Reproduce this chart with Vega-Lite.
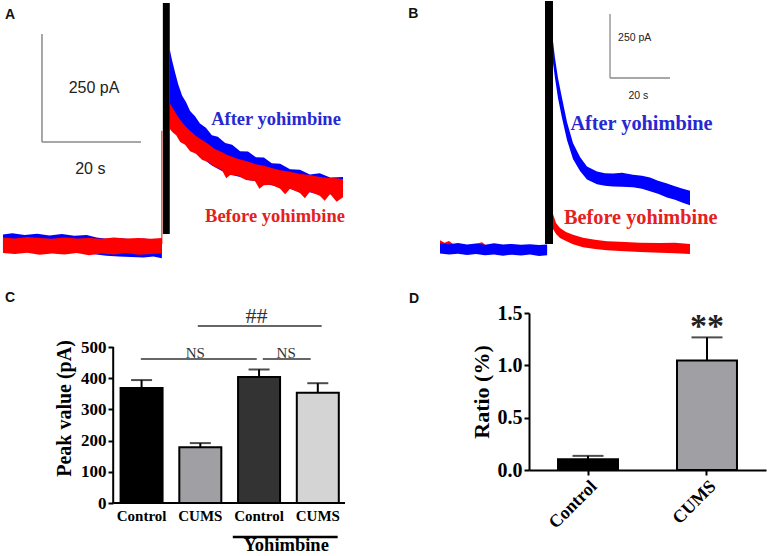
{
  "$schema": "https://vega.github.io/schema/vega-lite/v6.json",
  "padding": 0,
  "background": "white",
  "spacing": 10,
  "config": {
    "view": {"stroke": null},
    "axis": {"grid": false, "domainColor": "black", "tickColor": "black", "labelColor": "black", "titleColor": "black"}
  },
  "datasets": {
    "A_blue": [
      {"seg":"b","t":0.6,"i":22,"i2":-15},{"seg":"b","t":2.5,"i":25,"i2":-14},{"seg":"b","t":5,"i":21,"i2":-17},{"seg":"b","t":7.5,"i":24,"i2":-15},{"seg":"b","t":10,"i":20,"i2":-18},{"seg":"b","t":12.5,"i":23,"i2":-16},{"seg":"b","t":15,"i":19,"i2":-19},{"seg":"b","t":17.5,"i":21,"i2":-21},{"seg":"b","t":19.5,"i":15,"i2":-24},{"seg":"b","t":21.5,"i":12,"i2":-27},{"seg":"b","t":24,"i":14,"i2":-29},{"seg":"b","t":26.5,"i":11,"i2":-30},{"seg":"b","t":29,"i":13,"i2":-31},{"seg":"b","t":31,"i":10,"i2":-29},{"seg":"b","t":32.7,"i":12,"i2":-33},
      {"seg":"d","t":34.3,"i":451,"i2":280},{"seg":"d","t":34.7,"i":428,"i2":275},{"seg":"d","t":35.4,"i":396,"i2":270},{"seg":"d","t":36.0,"i":370,"i2":255},{"seg":"d","t":36.8,"i":343,"i2":245},{"seg":"d","t":37.6,"i":328,"i2":232},{"seg":"d","t":38.4,"i":308,"i2":220},{"seg":"d","t":39.4,"i":296,"i2":212},{"seg":"d","t":40.4,"i":279,"i2":200},{"seg":"d","t":41.6,"i":269,"i2":192},{"seg":"d","t":42.8,"i":252,"i2":182},{"seg":"d","t":44.0,"i":248,"i2":174},{"seg":"d","t":45.5,"i":234,"i2":165},{"seg":"d","t":46.9,"i":230,"i2":160},{"seg":"d","t":48.5,"i":215,"i2":155},{"seg":"d","t":50.1,"i":214,"i2":148},{"seg":"d","t":51.7,"i":201,"i2":145},{"seg":"d","t":53.3,"i":200,"i2":138},{"seg":"d","t":54.9,"i":187,"i2":136},{"seg":"d","t":56.6,"i":186,"i2":130},{"seg":"d","t":58.6,"i":173,"i2":128},{"seg":"d","t":60.6,"i":172,"i2":120},{"seg":"d","t":62.6,"i":161,"i2":120},{"seg":"d","t":64.6,"i":164,"i2":114},{"seg":"d","t":66.7,"i":154,"i2":115},{"seg":"d","t":69.3,"i":155,"i2":110}
    ],
    "A_red": [
      {"seg":"b","t":0.6,"i":15,"i2":-21},{"seg":"b","t":3,"i":13,"i2":-23},{"seg":"b","t":5.5,"i":16,"i2":-20},{"seg":"b","t":8,"i":14,"i2":-25},{"seg":"b","t":10.5,"i":12,"i2":-22},{"seg":"b","t":13,"i":15,"i2":-24},{"seg":"b","t":15.5,"i":13,"i2":-21},{"seg":"b","t":18,"i":14,"i2":-26},{"seg":"b","t":20.5,"i":12,"i2":-22},{"seg":"b","t":23,"i":15,"i2":-24},{"seg":"b","t":25.5,"i":13,"i2":-21},{"seg":"b","t":28,"i":14,"i2":-25},{"seg":"b","t":30.5,"i":12,"i2":-23},{"seg":"b","t":32.7,"i":14,"i2":-22},
      {"seg":"s","t":32.6,"i":262,"i2":0},{"seg":"s","t":32.8,"i":262,"i2":0},
      {"seg":"d","t":34.3,"i":326,"i2":266},{"seg":"d","t":34.9,"i":315,"i2":258},{"seg":"d","t":35.6,"i":301,"i2":252},{"seg":"d","t":36.4,"i":287,"i2":236},{"seg":"d","t":37.4,"i":273,"i2":230},{"seg":"d","t":38.4,"i":262,"i2":215},{"seg":"d","t":39.6,"i":250,"i2":209},{"seg":"d","t":40.8,"i":241,"i2":195},{"seg":"d","t":42.0,"i":232,"i2":190},{"seg":"d","t":43.4,"i":220,"i2":178},{"seg":"d","t":44.8,"i":213,"i2":172},{"seg":"d","t":45.7,"i":207,"i2":152},{"seg":"d","t":46.5,"i":204,"i2":160},{"seg":"d","t":48.1,"i":197,"i2":158},{"seg":"d","t":49.7,"i":192,"i2":148},{"seg":"d","t":51.5,"i":185,"i2":146},{"seg":"d","t":52.4,"i":183,"i2":128},{"seg":"d","t":53.3,"i":181,"i2":136},{"seg":"d","t":54.9,"i":176,"i2":137},{"seg":"d","t":56.6,"i":171,"i2":128},{"seg":"d","t":57.6,"i":169,"i2":115},{"seg":"d","t":58.6,"i":167,"i2":128},{"seg":"d","t":60.6,"i":162,"i2":118},{"seg":"d","t":61.6,"i":161,"i2":106},{"seg":"d","t":62.6,"i":160,"i2":121},{"seg":"d","t":64.6,"i":155,"i2":112},{"seg":"d","t":65.6,"i":154,"i2":100},{"seg":"d","t":66.7,"i":153,"i2":116},{"seg":"d","t":68.0,"i":152,"i2":98},{"seg":"d","t":69.3,"i":150,"i2":108}
    ],
    "A_stim": [{"t":32.9,"t2":34.3,"i":558,"i2":23}],
    "A_scale": [{"t":8.48,"t2":8.48,"i":486,"i2":236},{"t":8.48,"t2":28.48,"i":236,"i2":236}],
    "A_text": [
      {"t":1.0,"i":520,"label":"A","role":"letter"},
      {"t":19.0,"i":350,"label":"250 pA","role":"scale"},
      {"t":18.25,"i":162.7,"label":"20 s","role":"scale"},
      {"t":55.76,"i":275.5,"label":"After yohimbine","role":"after"},
      {"t":55.56,"i":51.6,"label":"Before yohimbine","role":"before"}
    ],
    "B_blue": [
      {"seg":"b","t":20,"i":22,"i2":-18},{"seg":"b","t":23,"i":19,"i2":-21},{"seg":"b","t":26,"i":23,"i2":-19},{"seg":"b","t":29,"i":18,"i2":-23},{"seg":"b","t":32,"i":21,"i2":-20},{"seg":"b","t":35,"i":17,"i2":-24},{"seg":"b","t":38,"i":22,"i2":-21},{"seg":"b","t":41,"i":18,"i2":-26},{"seg":"b","t":44,"i":20,"i2":-22},{"seg":"b","t":47,"i":17,"i2":-25},{"seg":"b","t":50,"i":19,"i2":-21},{"seg":"b","t":53,"i":16,"i2":-27},{"seg":"b","t":55.7,"i":18,"i2":-24},
      {"seg":"d","t":57.67,"i":812,"i2":727},{"seg":"d","t":58.33,"i":746,"i2":668},{"seg":"d","t":59.33,"i":668,"i2":590},{"seg":"d","t":60.67,"i":590,"i2":512},{"seg":"d","t":62.33,"i":496,"i2":426},{"seg":"d","t":64.33,"i":414,"i2":352},{"seg":"d","t":66.67,"i":359,"i2":305},{"seg":"d","t":69,"i":322,"i2":271},{"seg":"d","t":72.33,"i":303,"i2":253},{"seg":"d","t":75,"i":296,"i2":247},{"seg":"d","t":77.67,"i":295,"i2":244},{"seg":"d","t":80.67,"i":298,"i2":243},{"seg":"d","t":84.33,"i":290,"i2":241},{"seg":"d","t":87.33,"i":286,"i2":235},{"seg":"d","t":90,"i":279,"i2":226},{"seg":"d","t":92.67,"i":267,"i2":216},{"seg":"d","t":95.67,"i":256,"i2":201},{"seg":"d","t":98.33,"i":245,"i2":192},{"seg":"d","t":100.67,"i":236,"i2":182},{"seg":"d","t":103.33,"i":228,"i2":171}
    ],
    "B_red": [
      {"seg":"b","t":20,"i":34,"i2":-6},{"seg":"b","t":21.5,"i":24,"i2":-8},{"seg":"b","t":23,"i":31,"i2":-5},{"seg":"b","t":25,"i":14,"i2":-7},{"seg":"b","t":30,"i":15,"i2":-9},{"seg":"b","t":34,"i":26,"i2":-6},{"seg":"b","t":35.5,"i":13,"i2":-8},{"seg":"b","t":40,"i":14,"i2":-7},{"seg":"b","t":45,"i":12,"i2":-6},{"seg":"b","t":50,"i":13,"i2":-8},{"seg":"b","t":55.7,"i":12,"i2":-8},
      {"seg":"d","t":57.67,"i":137,"i2":78},{"seg":"d","t":58.67,"i":102,"i2":59},{"seg":"d","t":60,"i":82,"i2":43},{"seg":"d","t":62,"i":66,"i2":31},{"seg":"d","t":64.33,"i":56,"i2":19},{"seg":"d","t":67.67,"i":44,"i2":7},{"seg":"d","t":71.67,"i":36,"i2":0},{"seg":"d","t":75.67,"i":30,"i2":-5},{"seg":"d","t":80,"i":28,"i2":-8},{"seg":"d","t":86.67,"i":24,"i2":-12},{"seg":"d","t":93.33,"i":23,"i2":-15},{"seg":"d","t":98.33,"i":24,"i2":-17},{"seg":"d","t":103.33,"i":20,"i2":-20}
    ],
    "B_stim": [{"t":55,"t2":57.67,"i":969,"i2":19.5}],
    "B_scale": [{"t":76.67,"t2":76.67,"i":918,"i2":668},{"t":76.67,"t2":96.67,"i":668,"i2":668}],
    "B_text": [
      {"t":9.44,"i":903.5,"label":"B","role":"letter"},
      {"t":84.9,"i":812,"label":"250 pA","role":"scale"},
      {"t":86.1,"i":584.7,"label":"20 s","role":"scale"},
      {"t":87.17,"i":463.6,"label":"After yohimbine","role":"after"},
      {"t":86.9,"i":98.8,"label":"Before yohimbine","role":"before"}
    ],
    "C_bars": [
      {"x":1,"y":369,"upper":394,"key":"c1","label":"Control"},
      {"x":2,"y":179,"upper":192,"key":"c2","label":"CUMS"},
      {"x":3,"y":404,"upper":428,"key":"c3","label":"Control"},
      {"x":4,"y":353,"upper":384,"key":"c4","label":"CUMS"}
    ],
    "C_lines": [
      {"x":0.517,"x2":0.517,"y":0,"y2":500,"role":"axis"},
      {"x":0.517,"x2":4.463,"y":0,"y2":0,"role":"axis"},
      {"x":1.957,"x2":4.066,"y":567,"y2":567,"role":"sig"},
      {"x":0.988,"x2":2.961,"y":461.5,"y2":461.5,"role":"sig"},
      {"x":3.063,"x2":3.879,"y":461.5,"y2":461.5,"role":"sig"},
      {"x":2.553,"x2":4.338,"y":-109,"y2":-109,"role":"group"}
    ],
    "C_text": [
      {"x":-1.325,"y":644,"label":"C","role":"letter"},
      {"x":2.956,"y":577,"label":"##","role":"hash"},
      {"x":1.915,"y":466,"label":"NS","role":"ns"},
      {"x":3.462,"y":466,"label":"NS","role":"ns"},
      {"x":3.462,"y":-153,"label":"Yohimbine","role":"group"},
      {"x":1,"y":0,"label":"Control","role":"xlabel"},
      {"x":2,"y":0,"label":"CUMS","role":"xlabel"},
      {"x":3,"y":0,"label":"Control","role":"xlabel"},
      {"x":4,"y":0,"label":"CUMS","role":"xlabel"}
    ],
    "D_bars": [
      {"group":"Control","y":0.102,"upper":0.135,"key":"d1"},
      {"group":"CUMS","y":1.047,"upper":1.267,"key":"d2"}
    ],
    "D_text": [{"group":"CUMS","y":1.268,"label":"**"}]
  },
  "vconcat": [
    {
      "spacing": 0,
      "hconcat": [
        {
          "width": 380, "height": 280,
          "encoding": {
            "x": {"field":"t","type":"quantitative","scale":{"domain":[0,76.77],"nice":false,"zero":false},"axis":null},
            "y": {"field":"i","type":"quantitative","scale":{"domain":[-85.6,562.5],"nice":false,"zero":false},"axis":null}
          },
          "layer": [
            {"data":{"name":"A_blue"},"mark":{"type":"area","color":"#0000ff"},"encoding":{"y2":{"field":"i2"},"detail":{"field":"seg"}}},
            {"data":{"name":"A_red"},"mark":{"type":"area","color":"#ff0000"},"encoding":{"y2":{"field":"i2"},"detail":{"field":"seg"}}},
            {"data":{"name":"A_stim"},"mark":{"type":"rect","color":"#000000"},"encoding":{"x2":{"field":"t2"},"y2":{"field":"i2"}}},
            {"data":{"name":"A_scale"},"mark":{"type":"rule","color":"#8a8a8a","strokeWidth":1.5},"encoding":{"x2":{"field":"t2"},"y2":{"field":"i2"}}},
            {"data":{"name":"A_text"},"transform":[{"filter":"datum.role == 'letter'"}],"mark":{"type":"text","font":"Liberation Sans","fontWeight":"bold","fontSize":14,"align":"left","baseline":"alphabetic","color":"#111"},"encoding":{"text":{"field":"label"}}},
            {"data":{"name":"A_text"},"transform":[{"filter":"datum.role == 'scale'"}],"mark":{"type":"text","font":"Liberation Sans","fontSize":16,"align":"center","baseline":"alphabetic","color":"#222"},"encoding":{"text":{"field":"label"}}},
            {"data":{"name":"A_text"},"transform":[{"filter":"datum.role == 'after'"}],"mark":{"type":"text","font":"Liberation Serif","fontWeight":"bold","fontSize":18.5,"align":"center","baseline":"alphabetic","color":"#2828d2"},"encoding":{"text":{"field":"label"}}},
            {"data":{"name":"A_text"},"transform":[{"filter":"datum.role == 'before'"}],"mark":{"type":"text","font":"Liberation Serif","fontWeight":"bold","fontSize":18.5,"align":"center","baseline":"alphabetic","color":"#e62020"},"encoding":{"text":{"field":"label"}}}
          ]
        },
        {
          "width": 387, "height": 280,
          "encoding": {
            "x": {"field":"t","type":"quantitative","scale":{"domain":[0,129],"nice":false,"zero":false},"axis":null},
            "y": {"field":"i","type":"quantitative","scale":{"domain":[-125,968.75],"nice":false,"zero":false},"axis":null}
          },
          "layer": [
            {"data":{"name":"B_red"},"mark":{"type":"area","color":"#ff0000"},"encoding":{"y2":{"field":"i2"},"detail":{"field":"seg"}}},
            {"data":{"name":"B_blue"},"mark":{"type":"area","color":"#0000ff"},"encoding":{"y2":{"field":"i2"},"detail":{"field":"seg"}}},
            {"data":{"name":"B_stim"},"mark":{"type":"rect","color":"#000000"},"encoding":{"x2":{"field":"t2"},"y2":{"field":"i2"}}},
            {"data":{"name":"B_scale"},"mark":{"type":"rule","color":"#8a8a8a","strokeWidth":1.3},"encoding":{"x2":{"field":"t2"},"y2":{"field":"i2"}}},
            {"data":{"name":"B_text"},"transform":[{"filter":"datum.role == 'letter'"}],"mark":{"type":"text","font":"Liberation Sans","fontWeight":"bold","fontSize":14,"align":"left","baseline":"alphabetic","color":"#111"},"encoding":{"text":{"field":"label"}}},
            {"data":{"name":"B_text"},"transform":[{"filter":"datum.role == 'scale'"}],"mark":{"type":"text","font":"Liberation Sans","fontSize":10.5,"align":"center","baseline":"alphabetic","color":"#222"},"encoding":{"text":{"field":"label"}}},
            {"data":{"name":"B_text"},"transform":[{"filter":"datum.role == 'after'"}],"mark":{"type":"text","font":"Liberation Serif","fontWeight":"bold","fontSize":20.3,"align":"center","baseline":"alphabetic","color":"#2828d2"},"encoding":{"text":{"field":"label"}}},
            {"data":{"name":"B_text"},"transform":[{"filter":"datum.role == 'before'"}],"mark":{"type":"text","font":"Liberation Serif","fontWeight":"bold","fontSize":20.3,"align":"center","baseline":"alphabetic","color":"#e62020"},"encoding":{"text":{"field":"label"}}}
          ]
        }
      ]
    },
    {
      "spacing": 63,
      "hconcat": [
        {
          "width": 345, "height": 190,
          "layer": [
            {
              "data":{"name":"C_bars"},
              "mark":{"type":"bar","orient":"vertical","width":42,"stroke":"black","strokeWidth":2},
              "encoding":{
                "x":{"field":"x","type":"quantitative","scale":{"domain":[-1.41,4.463],"nice":false,"zero":false,"padding":0},"axis":null},
                "y":{"field":"y","type":"quantitative","stack":null,"scale":{"domain":[0,609],"nice":false,"zero":false},
                     "axis":{"values":[0,100,200,300,400,500],"offset":-113,"domain":false,"tickSize":5,"tickWidth":2,"labelFont":"Liberation Serif","labelFontWeight":"bold","labelFontSize":17,"labelPadding":2,"title":"Peak value (pA)","titleFont":"Liberation Serif","titleFontWeight":"bold","titleFontSize":20,"titlePadding":6}},
                "color":{"field":"key","type":"nominal","scale":{"domain":["c1","c2","c3","c4"],"range":["#000000","#a0a0a4","#333333","#d4d4d4"]},"legend":null}
              }
            },
            {
              "data":{"name":"C_bars"},
              "mark":{"type":"rule","color":"black","strokeWidth":2},
              "encoding":{
                "x":{"field":"x","type":"quantitative","scale":{"domain":[-1.41,4.463],"nice":false,"zero":false,"padding":0}},
                "y":{"field":"y","type":"quantitative","scale":{"domain":[0,609],"nice":false,"zero":false},
                     "axis":{"values":[0,100,200,300,400,500],"offset":-113,"domain":false,"tickSize":5,"tickWidth":2,"labelFont":"Liberation Serif","labelFontWeight":"bold","labelFontSize":17,"labelPadding":2,"title":"Peak value (pA)","titleFont":"Liberation Serif","titleFontWeight":"bold","titleFontSize":20,"titlePadding":6}},
                "y2":{"field":"upper"}
              }
            },
            {
              "data":{"name":"C_bars"},
              "mark":{"type":"tick","orient":"horizontal","size":21,"thickness":2,"color":"black"},
              "encoding":{
                "x":{"field":"x","type":"quantitative","scale":{"domain":[-1.41,4.463],"nice":false,"zero":false,"padding":0}},
                "y":{"field":"upper","type":"quantitative","scale":{"domain":[0,609],"nice":false,"zero":false},
                     "axis":{"values":[0,100,200,300,400,500],"offset":-113,"domain":false,"tickSize":5,"tickWidth":2,"labelFont":"Liberation Serif","labelFontWeight":"bold","labelFontSize":17,"labelPadding":2,"title":"Peak value (pA)","titleFont":"Liberation Serif","titleFontWeight":"bold","titleFontSize":20,"titlePadding":6}}
              }
            },
            {
              "data":{"name":"C_lines"},
              "transform":[{"filter":"datum.role == 'axis'"}],
              "mark":{"type":"rule","color":"black","strokeWidth":2},
              "encoding":{
                "x":{"field":"x","type":"quantitative","scale":{"domain":[-1.41,4.463],"nice":false,"zero":false,"padding":0}},
                "x2":{"field":"x2"},
                "y":{"field":"y","type":"quantitative","scale":{"domain":[0,609],"nice":false,"zero":false},
                     "axis":{"values":[0,100,200,300,400,500],"offset":-113,"domain":false,"tickSize":5,"tickWidth":2,"labelFont":"Liberation Serif","labelFontWeight":"bold","labelFontSize":17,"labelPadding":2,"title":"Peak value (pA)","titleFont":"Liberation Serif","titleFontWeight":"bold","titleFontSize":20,"titlePadding":6}},
                "y2":{"field":"y2"}
              }
            },
            {
              "data":{"name":"C_lines"},
              "transform":[{"filter":"datum.role == 'sig'"}],
              "mark":{"type":"rule","color":"#333333","strokeWidth":1.5},
              "encoding":{
                "x":{"field":"x","type":"quantitative","scale":{"domain":[-1.41,4.463],"nice":false,"zero":false,"padding":0}},
                "x2":{"field":"x2"},
                "y":{"field":"y","type":"quantitative","scale":{"domain":[0,609],"nice":false,"zero":false},
                     "axis":{"values":[0,100,200,300,400,500],"offset":-113,"domain":false,"tickSize":5,"tickWidth":2,"labelFont":"Liberation Serif","labelFontWeight":"bold","labelFontSize":17,"labelPadding":2,"title":"Peak value (pA)","titleFont":"Liberation Serif","titleFontWeight":"bold","titleFontSize":20,"titlePadding":6}},
                "y2":{"field":"y2"}
              }
            },
            {
              "data":{"name":"C_lines"},
              "transform":[{"filter":"datum.role == 'group'"}],
              "mark":{"type":"rule","color":"black","strokeWidth":2.5},
              "encoding":{
                "x":{"field":"x","type":"quantitative","scale":{"domain":[-1.41,4.463],"nice":false,"zero":false,"padding":0}},
                "x2":{"field":"x2"},
                "y":{"field":"y","type":"quantitative","scale":{"domain":[0,609],"nice":false,"zero":false},
                     "axis":{"values":[0,100,200,300,400,500],"offset":-113,"domain":false,"tickSize":5,"tickWidth":2,"labelFont":"Liberation Serif","labelFontWeight":"bold","labelFontSize":17,"labelPadding":2,"title":"Peak value (pA)","titleFont":"Liberation Serif","titleFontWeight":"bold","titleFontSize":20,"titlePadding":6}},
                "y2":{"field":"y2"}
              }
            },
            {
              "data":{"name":"C_text"},
              "transform":[{"filter":"datum.role == 'letter'"}],
              "mark":{"type":"text","font":"Liberation Sans","fontWeight":"bold","fontSize":14,"align":"left","baseline":"alphabetic","color":"#111"},
              "encoding":{
                "x":{"field":"x","type":"quantitative","scale":{"domain":[-1.41,4.463],"nice":false,"zero":false,"padding":0}},
                "y":{"field":"y","type":"quantitative","scale":{"domain":[0,609],"nice":false,"zero":false},
                     "axis":{"values":[0,100,200,300,400,500],"offset":-113,"domain":false,"tickSize":5,"tickWidth":2,"labelFont":"Liberation Serif","labelFontWeight":"bold","labelFontSize":17,"labelPadding":2,"title":"Peak value (pA)","titleFont":"Liberation Serif","titleFontWeight":"bold","titleFontSize":20,"titlePadding":6}},
                "text":{"field":"label"}
              }
            },
            {
              "data":{"name":"C_text"},
              "transform":[{"filter":"datum.role == 'hash'"}],
              "mark":{"type":"text","font":"Liberation Serif","fontSize":22,"align":"center","baseline":"alphabetic","color":"#333333"},
              "encoding":{
                "x":{"field":"x","type":"quantitative","scale":{"domain":[-1.41,4.463],"nice":false,"zero":false,"padding":0}},
                "y":{"field":"y","type":"quantitative","scale":{"domain":[0,609],"nice":false,"zero":false},
                     "axis":{"values":[0,100,200,300,400,500],"offset":-113,"domain":false,"tickSize":5,"tickWidth":2,"labelFont":"Liberation Serif","labelFontWeight":"bold","labelFontSize":17,"labelPadding":2,"title":"Peak value (pA)","titleFont":"Liberation Serif","titleFontWeight":"bold","titleFontSize":20,"titlePadding":6}},
                "text":{"field":"label"}
              }
            },
            {
              "data":{"name":"C_text"},
              "transform":[{"filter":"datum.role == 'ns'"}],
              "mark":{"type":"text","font":"Liberation Serif","fontSize":15,"align":"center","baseline":"alphabetic","color":"#333333"},
              "encoding":{
                "x":{"field":"x","type":"quantitative","scale":{"domain":[-1.41,4.463],"nice":false,"zero":false,"padding":0}},
                "y":{"field":"y","type":"quantitative","scale":{"domain":[0,609],"nice":false,"zero":false},
                     "axis":{"values":[0,100,200,300,400,500],"offset":-113,"domain":false,"tickSize":5,"tickWidth":2,"labelFont":"Liberation Serif","labelFontWeight":"bold","labelFontSize":17,"labelPadding":2,"title":"Peak value (pA)","titleFont":"Liberation Serif","titleFontWeight":"bold","titleFontSize":20,"titlePadding":6}},
                "text":{"field":"label"}
              }
            },
            {
              "data":{"name":"C_text"},
              "transform":[{"filter":"datum.role == 'group'"}],
              "mark":{"type":"text","font":"Liberation Serif","fontWeight":"bold","fontSize":18.5,"align":"center","baseline":"alphabetic","color":"black"},
              "encoding":{
                "x":{"field":"x","type":"quantitative","scale":{"domain":[-1.41,4.463],"nice":false,"zero":false,"padding":0}},
                "y":{"field":"y","type":"quantitative","scale":{"domain":[0,609],"nice":false,"zero":false},
                     "axis":{"values":[0,100,200,300,400,500],"offset":-113,"domain":false,"tickSize":5,"tickWidth":2,"labelFont":"Liberation Serif","labelFontWeight":"bold","labelFontSize":17,"labelPadding":2,"title":"Peak value (pA)","titleFont":"Liberation Serif","titleFontWeight":"bold","titleFontSize":20,"titlePadding":6}},
                "text":{"field":"label"}
              }
            },
            {
              "data":{"name":"C_text"},
              "transform":[{"filter":"datum.role == 'xlabel'"}],
              "mark":{"type":"text","font":"Liberation Serif","fontWeight":"bold","fontSize":15,"align":"center","baseline":"top","dy":6,"color":"black"},
              "encoding":{
                "x":{"field":"x","type":"quantitative","scale":{"domain":[-1.41,4.463],"nice":false,"zero":false,"padding":0}},
                "y":{"field":"y","type":"quantitative","scale":{"domain":[0,609],"nice":false,"zero":false},
                     "axis":{"values":[0,100,200,300,400,500],"offset":-113,"domain":false,"tickSize":5,"tickWidth":2,"labelFont":"Liberation Serif","labelFontWeight":"bold","labelFontSize":17,"labelPadding":2,"title":"Peak value (pA)","titleFont":"Liberation Serif","titleFontWeight":"bold","titleFontSize":20,"titlePadding":6}},
                "text":{"field":"label"}
              }
            }
          ]
        },
        {
          "width": 237, "height": 157,
          "title": {"text":"D","anchor":"start","frame":"group","dx":-120,"offset":-14,"font":"Liberation Sans","fontSize":14,"fontWeight":"bold","baseline":"alphabetic","color":"#111"},
          "layer": [
            {
              "data":{"name":"D_bars"},
              "mark":{"type":"bar","stroke":"black","strokeWidth":2},
              "encoding":{
                "x":{"field":"group","type":"nominal","sort":["Control","CUMS"],"scale":{"type":"band","paddingInner":0.496,"paddingOuter":0.244},
                     "axis":{"title":null,"labelAngle":-45,"labelFont":"Liberation Serif","labelFontWeight":"bold","labelFontSize":18,"labelPadding":2,"tickSize":5,"tickWidth":2,"domainWidth":2}},
                "y":{"field":"y","type":"quantitative","stack":null,"scale":{"domain":[0,1.5],"nice":false,"zero":false},
                     "axis":{"values":[0,0.5,1,1.5],"format":".1f","tickSize":5,"tickWidth":2,"domainWidth":2,"labelFont":"Liberation Serif","labelFontWeight":"bold","labelFontSize":20,"labelPadding":2,"title":"Ratio (%)","titleFont":"Liberation Serif","titleFontWeight":"bold","titleFontSize":22,"titlePadding":4}},
                "color":{"field":"key","type":"nominal","scale":{"domain":["d1","d2"],"range":["#000000","#a0a0a4"]},"legend":null}
              }
            },
            {
              "data":{"name":"D_bars"},
              "mark":{"type":"rule","color":"black","strokeWidth":2},
              "encoding":{
                "x":{"field":"group","type":"nominal","sort":["Control","CUMS"],
                     "axis":{"title":null,"labelAngle":-45,"labelFont":"Liberation Serif","labelFontWeight":"bold","labelFontSize":18,"labelPadding":2,"tickSize":5,"tickWidth":2,"domainWidth":2}},
                "y":{"field":"y","type":"quantitative",
                     "axis":{"values":[0,0.5,1,1.5],"format":".1f","tickSize":5,"tickWidth":2,"domainWidth":2,"labelFont":"Liberation Serif","labelFontWeight":"bold","labelFontSize":20,"labelPadding":2,"title":"Ratio (%)","titleFont":"Liberation Serif","titleFontWeight":"bold","titleFontSize":22,"titlePadding":4}},
                "y2":{"field":"upper"}
              }
            },
            {
              "data":{"name":"D_bars"},
              "mark":{"type":"tick","orient":"horizontal","size":31,"thickness":2,"color":"black"},
              "encoding":{
                "x":{"field":"group","type":"nominal","sort":["Control","CUMS"],
                     "axis":{"title":null,"labelAngle":-45,"labelFont":"Liberation Serif","labelFontWeight":"bold","labelFontSize":18,"labelPadding":2,"tickSize":5,"tickWidth":2,"domainWidth":2}},
                "y":{"field":"upper","type":"quantitative",
                     "axis":{"values":[0,0.5,1,1.5],"format":".1f","tickSize":5,"tickWidth":2,"domainWidth":2,"labelFont":"Liberation Serif","labelFontWeight":"bold","labelFontSize":20,"labelPadding":2,"title":"Ratio (%)","titleFont":"Liberation Serif","titleFontWeight":"bold","titleFontSize":22,"titlePadding":4}}
              }
            },
            {
              "data":{"name":"D_text"},
              "mark":{"type":"text","font":"Liberation Serif","fontWeight":"bold","fontSize":34,"align":"center","baseline":"alphabetic","color":"#222"},
              "encoding":{
                "x":{"field":"group","type":"nominal","sort":["Control","CUMS"],
                     "axis":{"title":null,"labelAngle":-45,"labelFont":"Liberation Serif","labelFontWeight":"bold","labelFontSize":18,"labelPadding":2,"tickSize":5,"tickWidth":2,"domainWidth":2}},
                "y":{"field":"y","type":"quantitative",
                     "axis":{"values":[0,0.5,1,1.5],"format":".1f","tickSize":5,"tickWidth":2,"domainWidth":2,"labelFont":"Liberation Serif","labelFontWeight":"bold","labelFontSize":20,"labelPadding":2,"title":"Ratio (%)","titleFont":"Liberation Serif","titleFontWeight":"bold","titleFontSize":22,"titlePadding":4}},
                "text":{"field":"label"}
              }
            }
          ]
        }
      ]
    }
  ]
}
